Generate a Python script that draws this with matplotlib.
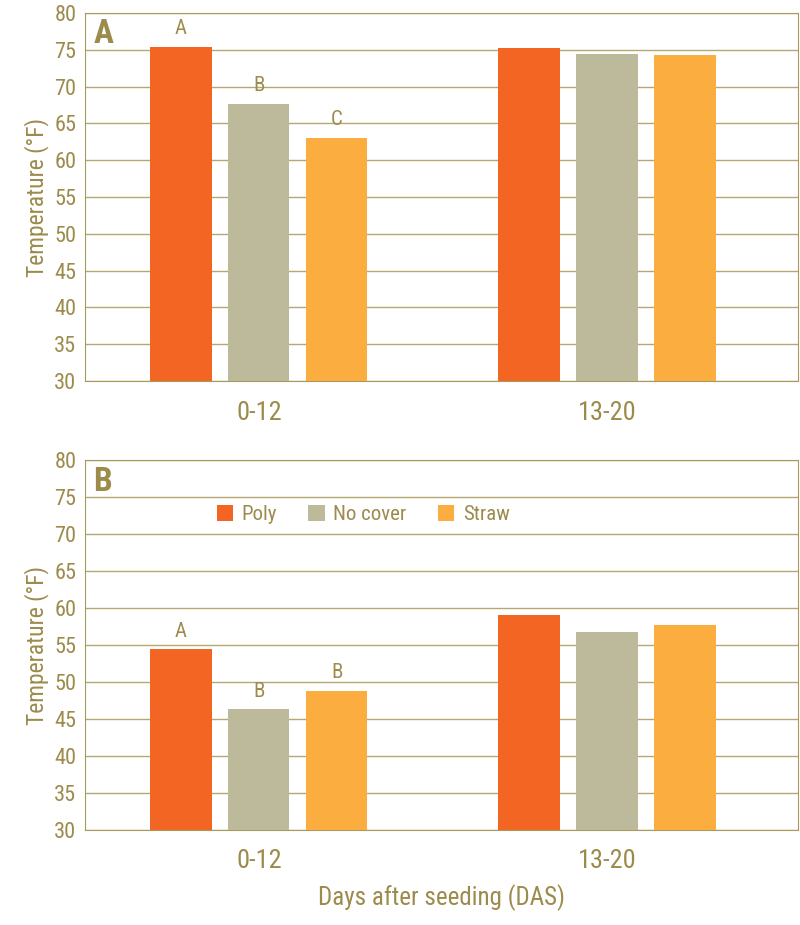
import matplotlib
matplotlib.use("Agg")
import matplotlib.pyplot as plt
import numpy as np
from matplotlib import font_manager

names = {f.name for f in font_manager.fontManager.ttflist}
fam = "DejaVu Sans"
for cand in ["Roboto Condensed", "Liberation Sans Narrow", "Open Sans Condensed", "Roboto"]:
    if cand in names:
        fam = cand
        break
plt.rcParams["font.family"] = fam

groups = ["0-12", "13-20"]
series = ["Poly", "No cover", "Straw"]
a_poly = [75.4, 75.2]
a_none = [67.6, 74.4]
a_straw = [63.0, 74.3]
b_poly = [54.4, 59.1]
b_none = [46.3, 56.8]
b_straw = [48.8, 57.7]
a_letters = ["A", "B", "C"]
b_letters = ["A", "B", "B"]
yticks = list(range(30, 81, 5))

colors = ["#F26522", "#BDB99B", "#FBAE3F"]
tc = "#9C8B4B"
fig = plt.figure(figsize=(8, 9.25), dpi=100)
axA = fig.add_axes([0.106, 0.588, 0.892, 0.398])
axB = fig.add_axes([0.106, 0.1027, 0.892, 0.400])

def draw(ax, data, letters, panel, legend):
    x = np.arange(len(groups))
    off, w = 0.224, 0.176
    for i, (vals, c) in enumerate(zip(data, colors)):
        ax.bar(x + (i - 1) * off, np.array(vals) - 30, bottom=30, width=w, color=c,
               label=series[i], zorder=3)
        ax.text(x[0] + (i - 1) * off, data[i][0] + 1.2, letters[i], ha="center",
                va="bottom", color=tc, fontsize=15)
    ax.set_xlim(-0.5, 1.55)
    ax.set_ylim(30, 80)
    ax.set_yticks(yticks)
    ax.set_xticks(x)
    ax.set_xticklabels(groups)
    ax.grid(axis="y", color="#B5A873", linewidth=1, zorder=0)
    for s in ax.spines.values():
        s.set_color("#A8995F")
    ax.tick_params(axis="y", colors=tc, labelsize=16, length=0, pad=6)
    ax.tick_params(axis="x", colors=tc, labelsize=19, length=0, pad=14)
    ax.set_ylabel("Temperature (°F)", color=tc, fontsize=17, labelpad=4)
    ax.text(0.012, 0.985, panel, transform=ax.transAxes, ha="left", va="top",
            fontsize=24, fontweight="bold", color=tc)
    if legend:
        ax.legend(loc="upper center", bbox_to_anchor=(0.39, 0.93), ncol=3, frameon=False,
                  fontsize=15, labelcolor=tc, handlelength=0.8, handleheight=0.8,
                  columnspacing=1.5, handletextpad=0.4)

draw(axA, [a_poly, a_none, a_straw], a_letters, "A", False)
draw(axB, [b_poly, b_none, b_straw], b_letters, "B", True)
axB.set_xlabel("Days after seeding (DAS)", color=tc, fontsize=18, labelpad=8)
fig.savefig("out.png", dpi=100)
